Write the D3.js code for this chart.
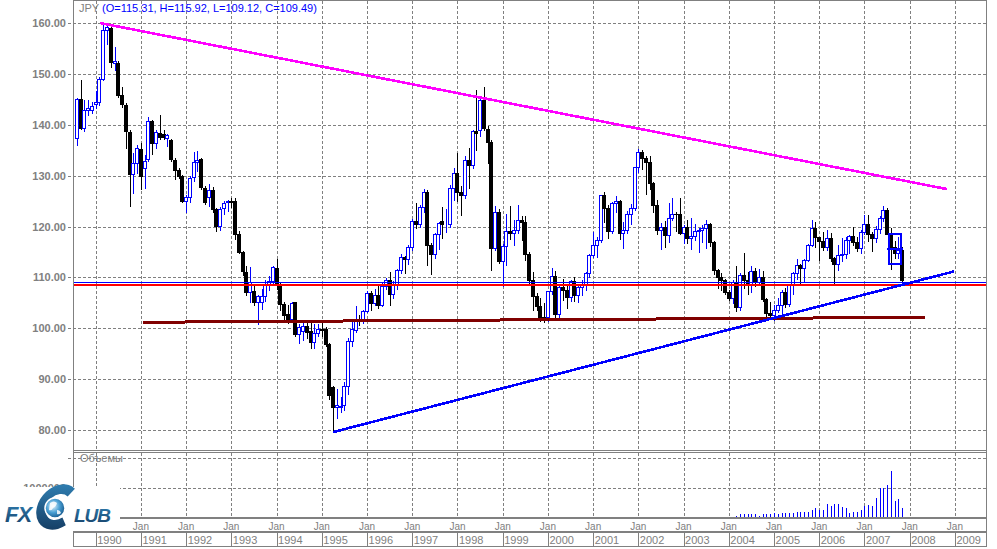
<!DOCTYPE html>
<html><head><meta charset="utf-8">
<script src="https://d3js.org/d3.v7.min.js"></script>
<style>html,body{margin:0;padding:0;background:#fff;overflow:hidden}svg{display:block}text{font-family:"Liberation Sans",Arial,sans-serif}</style>
</head><body>
<svg id="chart" width="997" height="549"></svg>
<script>
// months are counted from Jan 1990 (= 0); first bar is Aug 1989
const firstMonth = -5;
const open = [
137.5,145.1,139.4,142.9,143.0,
144.1,144.6,149.0,158.7,159.0,152.2,152.2,145.9,144.0,138.6,130.3,132.5,
135.2,131.6,133.3,140.7,136.5,138.4,138.2,137.5,137.0,133.2,131.1,130.0,
125.0,125.9,129.8,132.8,133.3,127.6,125.9,127.3,123.4,120.1,123.7,124.8,
125.1,125.0,118.5,115.0,111.1,107.2,107.4,105.1,105.1,106.4,108.7,109.3,
111.8,108.7,104.7,102.8,101.8,105.1,98.9,99.5,100.5,99.4,97.3,99.1,
99.9,99.9,96.9,88.4,84.5,84.6,85.0,88.75,97.6,99.7,101.9,101.6,
103.4,107.0,104.9,106.6,104.6,108.4,109.6,106.7,108.7,111.4,114.1,113.7,
115.9,121.2,120.6,123.9,126.8,116.4,114.6,118.5,121.1,120.5,120.6,127.6,
130.6,126.8,126.2,133.1,132.2,138.9,139.0,145.0,139.2,136.6,115.8,122.9,
113.3,116.1,119.2,118.8,119.4,121.3,121.0,114.6,109.6,106.4,104.4,102.3,
102.2,107.3,110.3,102.8,108.2,107.6,106.2,109.4,106.5,108.2,108.8,110.8,
114.4,116.3,117.3,126.2,123.7,119.1,124.6,125.0,118.8,119.4,122.4,123.6,
131.7,134.7,133.5,132.7,128.5,124.3,119.3,119.9,118.3,121.7,122.5,122.4,
118.7,119.9,117.8,118.1,119.2,119.4,119.8,120.6,116.9,111.4,110.1,109.6,
107.2,105.9,109.1,104.2,110.4,109.5,108.7,111.3,109.2,110.0,105.8,103.1,
102.7,103.6,104.6,107.2,104.8,108.5,110.9,112.5,111.8,113.4,116.4,119.8,
117.9,117.2,115.9,117.8,113.9,112.6,114.4,114.7,117.3,118.1,117.0,115.8,
119.0,120.6,118.6,117.8,119.6,121.7,123.2,118.5,115.9,114.8,115.31];
const high = [
145.3,148.9,145.0,145.0,144.5,
146.6,149.5,160.0,159.8,159.3,155.4,152.6,147.5,144.3,139.0,134.5,136.0,
136.5,134.0,141.6,141.0,139.0,141.9,139.0,138.3,137.2,133.5,131.5,130.2,
126.3,130.0,134.6,134.8,133.6,128.0,128.3,127.8,123.6,123.8,125.0,125.3,
125.7,125.7,119.2,115.2,112.3,112.0,108.5,106.6,107.7,109.6,110.2,112.2,
113.7,109.2,105.1,104.5,105.1,105.2,100.9,101.3,101.3,101.3,100.9,100.9,
101.3,100.2,97.2,88.6,88.0,86.5,89.5,98.0,101.5,104.4,102.6,103.7,
107.3,107.3,107.8,108.7,108.9,109.9,111.0,109.3,111.7,114.6,114.3,116.3,
121.5,124.7,124.2,127.4,127.2,116.8,118.8,121.0,123.8,123.5,128.2,131.5,
134.4,128.0,133.8,135.5,139.0,146.8,145.3,147.4,139.8,137.0,124.0,123.5,
116.5,122.5,124.0,121.3,124.3,122.0,122.0,115.0,111.0,107.0,106.0,105.0,
107.4,111.8,111.2,108.8,109.8,108.5,109.6,110.0,108.7,109.5,111.0,114.7,
119.0,118.0,126.3,126.8,124.2,124.8,126.0,125.2,121.0,123.1,124.5,131.8,
135.2,135.0,133.9,133.9,128.8,125.3,120.8,121.2,124.7,125.7,122.9,125.7,
120.4,121.4,121.7,120.6,119.8,120.4,121.3,120.7,117.2,111.6,110.9,109.7,
107.6,109.6,112.2,110.8,114.9,111.1,112.3,111.9,111.6,111.3,106.0,105.1,
104.6,106.0,107.5,108.0,108.6,111.0,113.7,112.6,113.6,116.5,121.4,120.9,
118.0,119.0,119.3,118.7,114.0,116.4,117.8,118.0,118.3,119.9,118.0,119.3,
122.2,122.2,119.0,120.2,122.1,124.1,123.7,119.8,117.2,117.9,115.92];
const low = [
136.0,139.3,138.8,142.0,142.3,
143.4,144.0,148.8,155.9,151.5,150.8,145.5,143.5,135.5,124.0,126.7,130.5,
127.5,127.6,133.0,134.2,135.5,137.2,137.2,135.8,133.0,129.3,129.5,124.8,
122.9,124.9,129.0,131.0,127.5,124.5,124.0,122.8,119.2,119.3,122.4,123.0,
123.8,117.5,114.8,110.5,106.5,105.1,104.6,100.8,103.8,105.3,107.5,108.7,
107.7,103.6,101.5,101.1,101.5,98.5,97.1,97.8,98.0,96.2,96.1,98.5,
98.4,96.5,86.0,79.9,82.4,83.6,84.0,87.0,96.5,99.2,100.6,101.0,
103.2,103.6,104.5,104.0,104.3,107.7,104.5,105.9,107.7,110.8,110.8,112.7,
115.5,119.8,119.9,122.9,112.5,110.6,113.8,115.7,117.8,119.0,120.0,125.3,
125.0,122.2,125.6,127.6,131.6,135.0,137.8,139.0,132.6,111.4,115.4,112.8,
108.3,112.5,117.5,116.4,118.7,117.3,113.5,108.5,103.7,103.6,101.5,101.3,
101.5,106.8,102.0,101.7,105.5,103.9,105.3,105.3,105.1,106.6,107.6,110.1,
114.0,114.0,116.9,121.0,117.8,118.7,122.8,117.5,115.8,118.7,120.6,123.3,
130.8,131.4,126.4,127.5,122.9,118.6,115.6,115.9,116.9,121.4,119.1,118.6,
116.8,116.8,115.7,117.4,115.0,116.9,115.8,116.2,110.7,107.9,107.6,106.8,
105.6,104.9,103.4,103.6,108.0,106.8,107.2,108.4,108.7,105.3,102.5,101.8,
101.7,103.2,103.1,104.2,104.4,106.8,109.8,108.8,109.3,113.2,116.1,115.9,
113.4,115.4,115.4,113.3,108.9,111.5,113.3,113.9,114.9,116.4,115.3,114.9,
118.5,117.2,115.2,117.0,118.8,121.1,118.6,111.6,113.9,113.9,109.12];
const close = [
145.1,139.4,143.0,143.3,143.8,
144.5,149.0,158.7,159.2,152.3,152.5,145.9,144.2,138.9,130.3,132.5,135.5,
130.0,132.9,140.7,136.5,138.6,137.6,137.6,138.1,133.3,131.2,129.9,125.0,
125.9,129.6,132.7,133.1,127.8,124.8,127.3,123.4,120.1,123.4,124.7,125.0,
124.9,118.5,115.0,111.3,107.2,109.1,105.1,106.4,106.4,108.7,109.3,112.0,
108.7,104.7,102.7,101.8,105.0,98.9,100.2,100.5,99.3,97.3,99.1,99.9,
99.6,96.9,86.9,84.5,85.0,84.8,88.75,97.6,99.9,101.9,101.6,103.4,
107.0,104.9,106.6,104.6,108.4,109.6,106.7,108.7,111.4,114.1,113.7,115.9,
121.2,120.6,123.9,126.8,116.4,114.6,118.5,120.7,120.5,120.6,127.6,130.6,
126.8,126.2,133.1,132.2,138.9,138.4,145.0,139.4,136.6,115.8,122.9,113.3,
116.1,119.2,118.8,119.4,121.3,121.0,114.6,109.6,106.4,104.4,102.3,102.2,
107.3,110.3,102.8,108.2,107.6,106.2,109.4,106.5,108.2,108.8,110.8,114.4,
116.3,117.3,126.2,123.7,119.1,124.6,125.0,118.8,119.4,122.4,123.6,131.7,
134.7,133.5,132.7,128.5,124.3,119.3,119.9,118.3,121.7,122.5,122.4,118.7,
119.9,117.8,118.1,119.2,119.4,119.8,120.6,116.9,111.4,110.1,109.6,107.2,
105.9,109.1,104.2,110.4,109.5,108.7,111.3,109.2,110.0,105.8,103.1,102.7,
103.6,104.6,107.2,104.8,108.5,110.9,112.5,111.8,113.4,116.4,119.8,117.9,
117.2,115.9,117.8,113.9,112.6,114.4,114.7,117.3,118.1,117.0,115.8,119.0,
120.6,118.6,117.8,119.6,121.7,123.2,118.5,115.9,114.8,115.4,109.49];

const volumeFirstMonth = 168; // Jan 2004
const volume = [10000,10000,50000,90000,90000,90000,90000,90000,50000,90000,90000,90000,
125000,90000,150000,125000,125000,125000,160000,160000,190000,190000,260000,330000,
260000,230000,470000,400000,470000,470000,360000,300000,125000,190000,160000,260000,
400000,430000,400000,670000,1010000,1010000,1110000,1590000,570000,640000,300000];

const priceTicks = [80,90,100,110,120,130,140,150,160];
const volumeTicks = [1000000, 2070000];
const volumeLabels = ["1000000"];
const years = d3.range(1990, 2010);
const janYears = years.slice(1); // the 1990 one sits under the logo
const legendSymbol = "JPY";
const legendValues = "(O=115.31, H=115.92, L=109.12, C=109.49)";
const panelTitle = "Объемы";

// drawn objects: [month, price]
const resistanceLine = [[1.14,160.06],[225.8,127.4]];
const supportLine = [[63.05,79.6],[227.8,111.2]];
const baseLine = [[12.63,101.19],[220.06,102.17]];
const bidLevel = 109.1, redLevel = 108.58;
const boxMonths = [210.6,213.9], boxPrices = [118.55,112.6];
const boxMidPrice = 115.7, boxMidMonths = [209.9,214.2];

const grey = "#808080";
const svg = d3.select("#chart");
const x = d3.scaleLinear().domain([0,216]).range([95.7,909.7]);
const y = d3.scaleLinear().domain([80,160]).range([430,23.3]);
const yv = d3.scaleLinear().domain([0,1000000]).range([517,488.3]);
const L = 73, R = 986;
const px = v => Math.round(v) + 0.5;

// grid
const grid = svg.append("g").attr("stroke", grey).attr("stroke-dasharray","3,2").attr("shape-rendering","crispEdges");
grid.selectAll("line.hp").data(priceTicks).join("line")
  .attr("x1",68).attr("x2",R).attr("y1",d=>px(y(d))).attr("y2",d=>px(y(d)));
grid.selectAll("line.hv").data(volumeTicks).join("line")
  .attr("x1",68).attr("x2",R).attr("y1",d=>px(yv(d))).attr("y2",d=>px(yv(d)));
grid.selectAll("line.vp").data(years).join("line")
  .attr("x1",d=>px(x((d-1990)*12))).attr("x2",d=>px(x((d-1990)*12))).attr("y1",1).attr("y2",450);
grid.selectAll("line.vv").data(years).join("line")
  .attr("x1",d=>px(x((d-1990)*12))).attr("x2",d=>px(x((d-1990)*12))).attr("y1",453).attr("y2",517);

// candles
const bars = close.map((c,i)=>({m:firstMonth+i,o:open[i],h:high[i],l:low[i],c}));
const cg = svg.append("g").attr("shape-rendering","crispEdges");
cg.selectAll("line.wick").data(bars).join("line")
  .attr("x1",d=>Math.round(x(d.m))+0.5).attr("x2",d=>Math.round(x(d.m))+0.5)
  .attr("y1",d=>Math.round(y(d.h))).attr("y2",d=>Math.round(y(d.l))+1)
  .attr("stroke",d=>d.c>=d.o?"#0000ff":"#000");
cg.selectAll("rect.body").data(bars).join("rect")
  .each(function(d){
    const cx = Math.round(x(d.m));
    const yt = Math.round(y(Math.max(d.o,d.c))), yb = Math.round(y(Math.min(d.o,d.c)));
    const s = d3.select(this);
    if (d.c>=d.o) {
      s.attr("x",cx-1.5).attr("y",yt+0.5).attr("width",3).attr("height",Math.max(0,yb-yt))
       .attr("fill","#fff").attr("stroke","#0000ff");
    } else {
      s.attr("x",cx-2).attr("y",yt).attr("width",4).attr("height",Math.max(1,yb-yt+1)).attr("fill","#000");
    }
  });

// volume
const vols = volume.map((v,i)=>({m:volumeFirstMonth+i,v}));
svg.append("g").attr("shape-rendering","crispEdges").selectAll("line").data(vols).join("line")
  .attr("x1",d=>Math.round(x(d.m))+0.5).attr("x2",d=>Math.round(x(d.m))+0.5)
  .attr("y1",yv(0)).attr("y2",d=>Math.round(yv(d.v)))
  .attr("stroke","#0000ff");

// objects
const og = svg.append("g").attr("shape-rendering","crispEdges").attr("fill","none");
og.append("line").attr("x1",L).attr("x2",R).attr("y1",Math.round(y(redLevel))).attr("y2",Math.round(y(redLevel)))
  .attr("stroke","#ff0000").attr("stroke-width",2);
og.append("line").attr("x1",L).attr("x2",R).attr("y1",px(y(bidLevel))).attr("y2",px(y(bidLevel)))
  .attr("stroke","#0000ff").attr("stroke-width",1);
const lineGen = d3.line().x(d=>x(d[0])).y(d=>y(d[1]));
og.append("path").attr("d",lineGen(baseLine)).attr("stroke","#800000").attr("stroke-width",3);
og.append("path").attr("d",lineGen(resistanceLine)).attr("stroke","#ff00ff").attr("stroke-width",2.6);
og.append("path").attr("d",lineGen(supportLine)).attr("stroke","#0000ff").attr("stroke-width",2.6);
og.append("rect").attr("x",Math.round(x(boxMonths[0]))).attr("y",Math.round(y(boxPrices[0])))
  .attr("width",Math.round(x(boxMonths[1])-x(boxMonths[0]))).attr("height",Math.round(y(boxPrices[1])-y(boxPrices[0])))
  .attr("stroke","#0000ff").attr("stroke-width",2);
og.append("line").attr("x1",x(boxMidMonths[0])).attr("x2",x(boxMidMonths[1]))
  .attr("y1",Math.round(y(boxMidPrice))).attr("y2",Math.round(y(boxMidPrice))).attr("stroke","#0000ff").attr("stroke-width",2);

// frame
const fg = svg.append("g").attr("stroke",grey).attr("shape-rendering","crispEdges");
fg.append("line").attr("x1",L).attr("x2",R+1).attr("y1",0.5).attr("y2",0.5);
fg.append("line").attr("x1",L).attr("x2",R+1).attr("y1",450.5).attr("y2",450.5);
fg.append("line").attr("x1",L).attr("x2",R+1).attr("y1",452.5).attr("y2",452.5);
fg.append("line").attr("x1",L).attr("x2",R+1).attr("y1",518).attr("y2",518).attr("stroke-width",2);
fg.append("line").attr("x1",L).attr("x2",R+1).attr("y1",532).attr("y2",532).attr("stroke-width",2);
fg.append("line").attr("x1",L).attr("x2",R+1).attr("y1",546.5).attr("y2",546.5);
fg.append("line").attr("x1",L+0.5).attr("x2",L+0.5).attr("y1",0).attr("y2",547);
fg.append("line").attr("x1",R+0.5).attr("x2",R+0.5).attr("y1",0).attr("y2",547);
fg.selectAll("line.ysep").data(years).join("line")
  .attr("x1",d=>px(x((d-1990)*12))).attr("x2",d=>px(x((d-1990)*12))).attr("y1",532).attr("y2",546);

// axis texts
svg.append("g").selectAll("text").data(priceTicks).join("text")
  .attr("x",66).attr("y",d=>y(d)+4).attr("text-anchor","end")
  .attr("font-size",11).attr("font-weight","bold").attr("fill",grey)
  .text(d=>d3.format(".2f")(d));
svg.append("g").selectAll("text").data(janYears).join("text")
  .attr("x",d=>x((d-1990)*12)).attr("y",530).attr("text-anchor","middle")
  .attr("font-size",10).attr("fill",grey).text("Jan");
svg.append("g").selectAll("text").data(years).join("text")
  .attr("x",d=>x((d-1990)*12)+1.5).attr("y",544).attr("font-size",11).attr("fill",grey).text(d=>d);

const lg = svg.append("text").attr("x",79).attr("y",12).attr("font-size",11);
lg.append("tspan").attr("fill",grey).text(legendSymbol+" ");
lg.append("tspan").attr("fill","#0000ff").text(legendValues);
svg.append("text").attr("x",80).attr("y",462).attr("font-size",11).attr("fill",grey).text(panelTitle);
svg.append("g").selectAll("text").data(volumeLabels).join("text")
  .attr("x",66).attr("y",yv(1000000)+4).attr("text-anchor","end")
  .attr("font-size",11).attr("font-weight","bold").attr("fill",grey).text(d=>d);

// logo (white plate hides the lower part of the volume label, as in the original)
const logo = svg.append("g");
logo.append("rect").attr("x",0).attr("y",487).attr("width",120).attr("height",44).attr("fill","#fff");
const defs = svg.append("defs");
const rg = defs.append("radialGradient").attr("id","globe").attr("cx","40%").attr("cy","40%").attr("r","60%");
rg.append("stop").attr("offset","0%").attr("stop-color","#e4f4fc");
rg.append("stop").attr("offset","55%").attr("stop-color","#4aa0d4");
rg.append("stop").attr("offset","100%").attr("stop-color","#1b5f93");
const lgr = defs.append("linearGradient").attr("id","logoTxt").attr("x1","0").attr("y1","0").attr("x2","0").attr("y2","1");
lgr.append("stop").attr("offset","0%").attr("stop-color","#2f7db0");
lgr.append("stop").attr("offset","100%").attr("stop-color","#163f66");
const swoosh = d3.arc().innerRadius(12).outerRadius(21).startAngle(Math.PI*0.8).endAngle(Math.PI*2.2);
logo.append("path").attr("d",swoosh()).attr("transform","translate(58,507) skewX(-14) scale(1,1.08)")
  .attr("fill","url(#logoTxt)");
logo.append("circle").attr("cx",55).attr("cy",508).attr("r",10).attr("fill","url(#globe)").attr("stroke","#fff").attr("stroke-width",1.5);
logo.append("path").attr("d","M50,503 q4,-3 7,0 q-1,4 -4,5 q-1,3 -4,2 z M57,510 q3,0 4,3 q-2,2 -4,1 z")
  .attr("fill","#fff").attr("opacity",0.85);
logo.append("text").attr("x",5).attr("y",522).attr("font-size",22).attr("font-weight","bold")
  .attr("font-style","italic").attr("fill","url(#logoTxt)").attr("font-family","DejaVu Sans")
  .attr("letter-spacing",-1).text("FX");
logo.append("text").attr("x",74).attr("y",522).attr("font-size",19).attr("font-weight","bold")
  .attr("font-style","italic").attr("fill","url(#logoTxt)").attr("font-family","DejaVu Sans")
  .attr("letter-spacing",-1).text("LUB");
</script></body></html>
